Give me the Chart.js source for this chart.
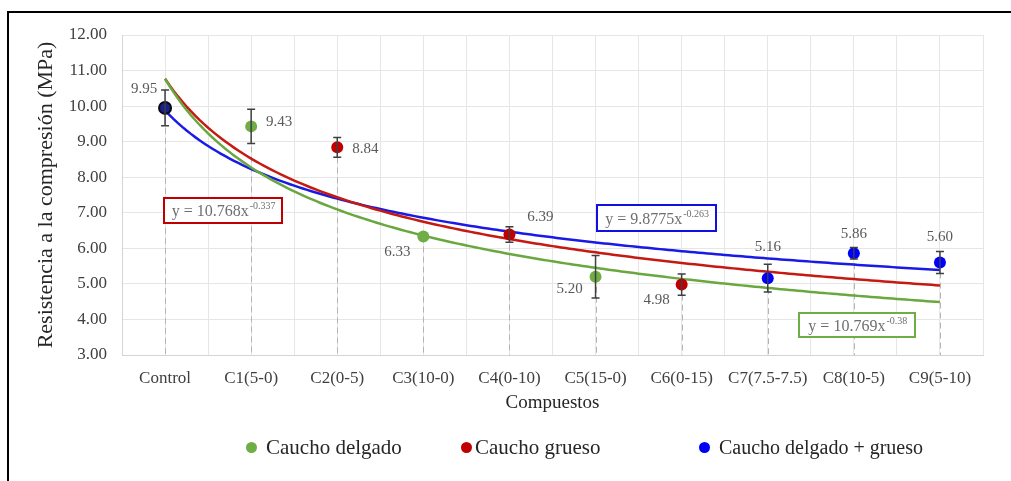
<!DOCTYPE html>
<html lang="es">
<head>
<meta charset="utf-8">
<title>Resistencia a la compresión</title>
<script src="https://cdn.jsdelivr.net/npm/chart.js@4.4.1/dist/chart.umd.min.js"></script>
<style>
  html, body { margin: 0; padding: 0; background: #ffffff; }
  #wrap { position: relative; width: 1011px; height: 481px; overflow: hidden; }
  #frame { position: absolute; left: 7px; top: 11px; right: -10px; bottom: -10px;
           border-top: 2px solid #000; border-left: 2px solid #000; }
  #chart { position: absolute; left: 0; top: 0; }
  .leg { position: absolute; top: 436px; height: 22px; display: flex; align-items: center;
         font-family: 'Liberation Serif', serif; font-size: 21px; color: #262626; white-space: nowrap; }
  .leg i { display: inline-block; width: 11px; height: 11px; border-radius: 50%; margin-right: 9px; }
</style>
</head>
<body>
<div id="wrap">
  <div id="frame"></div>
  <canvas id="chart" width="1011" height="481"></canvas>
  <div class="leg" style="left:246px"><i style="background:#70ad47"></i>Caucho delgado</div>
  <div class="leg" style="left:461px"><i style="background:#c00000;margin-right:3px"></i>Caucho grueso</div>
  <div class="leg" style="left:699px;font-size:20px"><i style="background:#0000ff"></i>Caucho delgado + grueso</div>
</div>
<script>
// Composites on the horizontal axis (position 1..10)
const categories = ['Control', 'C1(5-0)', 'C2(0-5)', 'C3(10-0)', 'C4(0-10)',
                    'C5(15-0)', 'C6(0-15)', 'C7(7.5-7.5)', 'C8(10-5)', 'C9(5-10)'];
const yTicks = [3, 4, 5, 6, 7, 8, 9, 10, 11, 12];

// Reference mix
const controlMean = [9.95];
const controlErr = [0.50];

// Thin rubber
const delgadoCats = ['C1(5-0)', 'C3(10-0)', 'C5(15-0)'];
const delgadoMeans = [9.43, 6.33, 5.20];
const delgadoErr = [0.48, 0.00, 0.60];

// Thick rubber
const gruesoCats = ['C2(0-5)', 'C4(0-10)', 'C6(0-15)'];
const gruesoMeans = [8.84, 6.39, 4.98];
const gruesoErr = [0.28, 0.22, 0.30];

// Thin + thick rubber
const mixtoCats = ['C7(7.5-7.5)', 'C8(10-5)', 'C9(5-10)'];
const mixtoMeans = [5.16, 5.86, 5.60];
const mixtoErr = [0.39, 0.16, 0.31];

// Power-law trend lines y = a * x^b
const delgadoFit = [10.769, -0.38];
const gruesoFit = [10.768, -0.337];
const mixtoFit = [9.8775, -0.263];

const GREEN = '#70ad47', RED = '#c00000', BLUE = '#0000ff';
const LINE_GREEN = '#6aa83f', LINE_RED = '#c41a12', LINE_BLUE = '#1a1ae6';

const catX = c => categories.indexOf(c) + 1;
const toPoints = (cats, vals) => cats.map((c, i) => ({ x: catX(c), y: vals[i] }));

function trend(fit) {
  const pts = [];
  for (let k = 0; k <= 180; k++) {
    const x = 1 + k * 0.05;
    pts.push({ x, y: fit[0] * Math.pow(x, fit[1]) });
  }
  return pts;
}

// value-label placement (pixel offset from the marker)
const labelOffsets = {
  'Control': [-21, -19], 'C1(5-0)': [28, -4], 'C2(0-5)': [28, 2], 'C3(10-0)': [-26, 15],
  'C4(0-10)': [31, -17], 'C5(15-0)': [-26, 12], 'C6(0-15)': [-25, 15],
  'C7(7.5-7.5)': [0, -31], 'C8(10-5)': [0, -19], 'C9(5-10)': [0, -25]
};

// equation boxes: centre in data units, size in px
const eqBoxes = [
  { fit: gruesoFit, color: '#c00000', cx: 1.675, cy: 7.07, w: 118, h: 25 },
  { fit: mixtoFit, color: '#1010e0', cx: 6.71, cy: 6.85, w: 119, h: 26 },
  { fit: delgadoFit, color: '#70ad47', cx: 9.04, cy: 3.83, w: 116, h: 24 }
];

const markerSets = [
  { cats: ['Control'], vals: controlMean, err: controlErr },
  { cats: delgadoCats, vals: delgadoMeans, err: delgadoErr },
  { cats: gruesoCats, vals: gruesoMeans, err: gruesoErr },
  { cats: mixtoCats, vals: mixtoMeans, err: mixtoErr }
];

const FONT = "'Liberation Serif', serif";
Chart.defaults.font.family = FONT;

const dropLines = {
  id: 'dropLines',
  beforeDatasetsDraw(chart) {
    const { ctx, chartArea, scales: { x, y } } = chart;
    ctx.save();
    ctx.strokeStyle = '#b4b4b4';
    ctx.lineWidth = 1;
    ctx.setLineDash([6, 4]);
    markerSets.forEach(s => s.cats.forEach((c, i) => {
      const px = Math.round(x.getPixelForValue(catX(c))) + 0.5;
      ctx.beginPath();
      ctx.moveTo(px, y.getPixelForValue(s.vals[i]));
      ctx.lineTo(px, chartArea.bottom);
      ctx.stroke();
    }));
    ctx.restore();
  }
};

const overlays = {
  id: 'overlays',
  afterDatasetsDraw(chart) {
    const { ctx, scales: { x, y } } = chart;
    ctx.save();
    // error bars
    ctx.strokeStyle = '#3f3f3f';
    ctx.lineWidth = 1.5;
    markerSets.forEach(s => s.cats.forEach((c, i) => {
      const e = s.err[i];
      if (!e) return;
      const px = x.getPixelForValue(catX(c));
      const top = y.getPixelForValue(s.vals[i] + e);
      const bot = y.getPixelForValue(s.vals[i] - e);
      ctx.beginPath();
      ctx.moveTo(px, top); ctx.lineTo(px, bot);
      ctx.moveTo(px - 4, top); ctx.lineTo(px + 4, top);
      ctx.moveTo(px - 4, bot); ctx.lineTo(px + 4, bot);
      ctx.stroke();
    }));
    // value labels
    ctx.fillStyle = '#595959';
    ctx.font = '15px ' + FONT;
    ctx.textAlign = 'center';
    ctx.textBaseline = 'middle';
    markerSets.forEach(s => s.cats.forEach((c, i) => {
      const o = labelOffsets[c];
      ctx.fillText(s.vals[i].toFixed(2), x.getPixelForValue(catX(c)) + o[0], y.getPixelForValue(s.vals[i]) + o[1]);
    }));
    // trend equations
    eqBoxes.forEach(b => {
      const cx = x.getPixelForValue(b.cx), cy = y.getPixelForValue(b.cy);
      const l = Math.round(cx - b.w / 2), t = Math.round(cy - b.h / 2);
      ctx.fillStyle = '#ffffff';
      ctx.fillRect(l, t, b.w, b.h);
      ctx.strokeStyle = b.color;
      ctx.lineWidth = 2;
      ctx.strokeRect(l, t, b.w, b.h);
      const base = 'y = ' + b.fit[0] + 'x';
      const sup = String(b.fit[1]);
      ctx.font = '16px ' + FONT;
      const w1 = ctx.measureText(base).width;
      ctx.font = '10px ' + FONT;
      const w2 = ctx.measureText(sup).width;
      const sx = cx - (w1 + w2) / 2;
      ctx.fillStyle = '#6e6e6e';
      ctx.textAlign = 'left';
      ctx.textBaseline = 'alphabetic';
      ctx.font = '16px ' + FONT;
      ctx.fillText(base, sx, cy + 6);
      ctx.font = '10px ' + FONT;
      ctx.fillText(sup, sx + w1 + 1, cy - 1);
    });
    ctx.restore();
  }
};

const lineDs = (data, color) => ({
  type: 'line', data, borderColor: color, borderWidth: 2.5, pointRadius: 0,
  fill: false, tension: 0, order: 2
});
const markDs = (data, fill, border, bw) => ({
  type: 'scatter', data, backgroundColor: fill, borderColor: border, borderWidth: bw,
  pointRadius: 6, order: 1
});

new Chart(document.getElementById('chart'), {
  data: {
    datasets: [
      lineDs(trend(delgadoFit), LINE_GREEN),
      lineDs(trend(gruesoFit), LINE_RED),
      lineDs(trend(mixtoFit), LINE_BLUE),
      markDs(toPoints(delgadoCats, delgadoMeans), GREEN, GREEN, 0),
      markDs(toPoints(gruesoCats, gruesoMeans), RED, RED, 0),
      markDs(toPoints(mixtoCats, mixtoMeans), BLUE, BLUE, 0),
      markDs(toPoints(['Control'], controlMean), '#1a1f8a', '#0a0a0a', 2)
    ]
  },
  options: {
    responsive: false,
    animation: false,
    events: [],
    layout: { padding: { top: 35, right: 28, bottom: 66, left: 0 } },
    plugins: { legend: { display: false }, tooltip: { enabled: false } },
    scales: {
      x: {
        type: 'linear', min: 0.5, max: 10.5,
        afterBuildTicks: s => {
          const t = [];
          for (let k = 0; k <= 20; k++) t.push({ value: 0.5 + k * 0.5 });
          s.ticks = t;
        },
        ticks: {
          autoSkip: false, maxRotation: 0, minRotation: 0, padding: 13,
          color: '#404040', font: { size: 17 },
          callback: v => Number.isInteger(v) ? categories[v - 1] : ''
        },
        grid: { color: '#e6e6e6', drawTicks: false },
        border: { color: '#d4d4d4' },
        title: { display: true, text: 'Compuestos', color: '#262626',
                 font: { size: 19 }, padding: { top: 0, bottom: 1 } },
        afterFit: s => { s.height = 60; }
      },
      y: {
        min: yTicks[0], max: yTicks[yTicks.length - 1],
        afterBuildTicks: s => { s.ticks = yTicks.map(v => ({ value: v })); },
        ticks: { padding: 15, color: '#404040', font: { size: 17 }, callback: v => v.toFixed(2) },
        grid: { color: '#e6e6e6', drawTicks: false },
        border: { color: '#d4d4d4' },
        title: { display: true, text: 'Resistencia a la compresión (MPa)', color: '#262626',
                 font: { size: 22 }, padding: { top: 33, bottom: 0 } },
        afterFit: s => { s.width = 122; }
      }
    }
  },
  plugins: [dropLines, overlays]
});
</script>
</body>
</html>
